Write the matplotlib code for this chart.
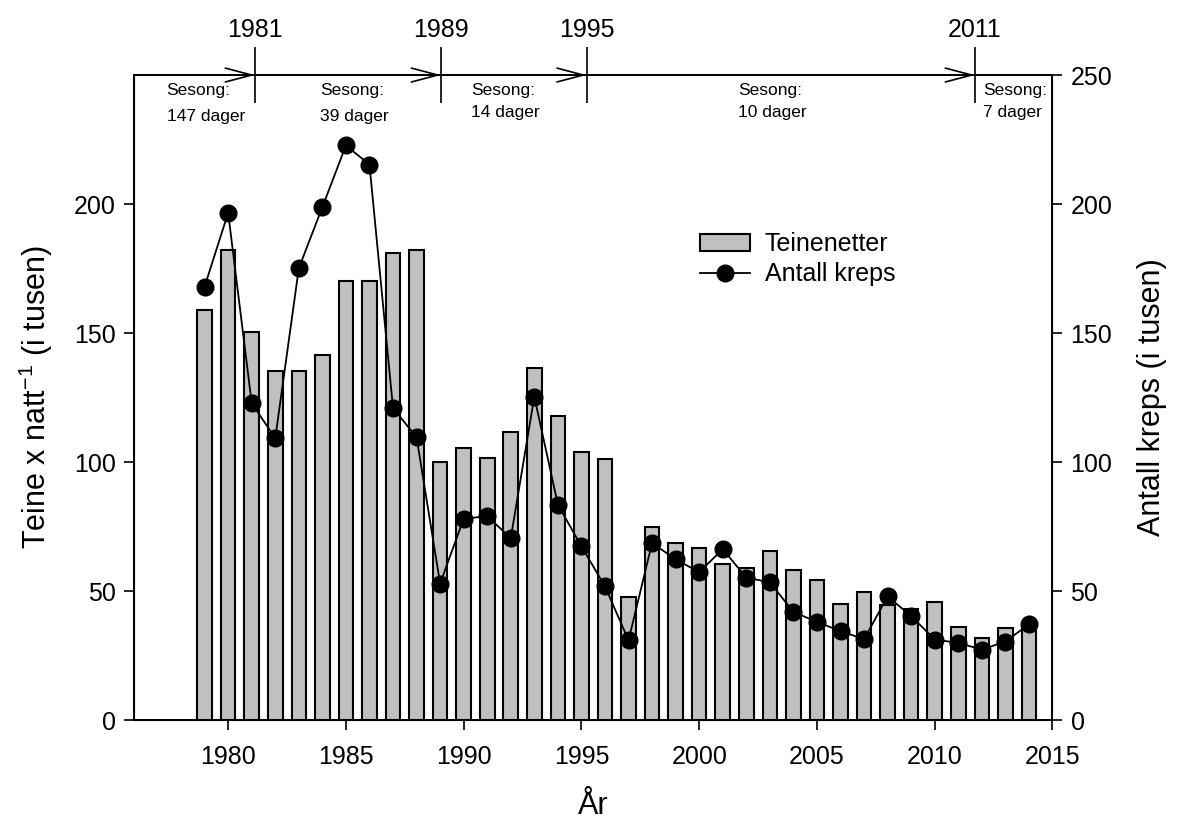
import matplotlib
matplotlib.use("Agg")
from matplotlib import pyplot as plt

plt.rcParams['font.family'] = ['Liberation Sans', 'DejaVu Sans']
plt.rcParams['mathtext.default'] = 'regular'

# data
years = list(range(1979, 2015))

# Teinenetter (left axis, thousands)
teinenetter = [159, 182, 150.5, 135.3, 135.1, 141.6, 170.3, 170.3, 180.9, 182.1,
               99.9, 105.6, 101.4, 111.5, 136.6, 117.7, 103.8, 101.1, 47.7, 74.8,
               68.7, 66.5, 60.6, 58.9, 65.7, 58.2, 54.4, 45.1, 49.5, 44.7,
               42.9, 45.7, 36.1, 31.7, 35.7, 36.5]

# Antall kreps (right axis, thousands)
kreps = [168, 196.6, 122.8, 109.2, 175.1, 198.8, 222.7, 215.3, 120.9, 109.6,
         52.9, 78.0, 79.0, 70.5, 125.3, 83.5, 67.3, 51.8, 30.9, 68.6,
         62.3, 57.3, 66.2, 55.2, 53.4, 41.9, 38.0, 34.5, 31.3, 47.9,
         40.3, 31.2, 29.9, 27.3, 30.4, 37.1]

# season periods on top axis
period_ticks = [1981.14, 1989.04, 1995.22, 2011.71]
period_labels = ['1981', '1989', '1995', '2011']
season_x = [1977.39, 1983.90, 1990.30, 2001.65, 2012.06]
season_days = ['147 dager', '39 dager', '14 dager', '10 dager', '7 dager']

fig = plt.figure(figsize=(11.77, 8.21), dpi=100)
ax = fig.add_axes([0.1138, 0.1230, 0.7804, 0.7856])

bars = ax.bar(years, teinenetter, width=0.62, color='#c0c0c0',
              edgecolor='black', linewidth=1.5, label='Teinenetter', zorder=2)

ax.set_xlim(1976, 2015)
ax.set_ylim(0, 250)
ax.set_xticks([1980, 1985, 1990, 1995, 2000, 2005, 2010, 2015])
ax.set_yticks([0, 50, 100, 150, 200])
ax.tick_params(axis='both', direction='out', length=7, width=1.2,
               labelsize=18, pad=6)
ax.tick_params(axis='x', pad=11)
for s in ax.spines.values():
    s.set_linewidth(1.3)

ax.set_xlabel('År', fontsize=22, labelpad=16)
ax.set_ylabel('Teine x natt$^{-1}$ (i tusen)', fontsize=22, labelpad=14)

# right axis
ax2 = ax.twinx()
line, = ax2.plot(years, kreps, color='black', linewidth=1.3, marker='o',
                 markersize=12, label='Antall kreps', zorder=3)
ax2.set_ylim(0, 250)
ax2.set_yticks([0, 50, 100, 150, 200, 250])
ax2.tick_params(axis='y', direction='out', length=7, width=1.2,
                labelsize=18, pad=6)
ax2.set_ylabel('Antall kreps (i tusen)', fontsize=22, labelpad=18)
for s in ax2.spines.values():
    s.set_linewidth(1.3)

# top axis with period markers
ax3 = ax.twiny()
ax3.set_xlim(ax.get_xlim())
ax3.set_xticks(period_ticks)
ax3.set_xticklabels(period_labels)
ax3.tick_params(axis='x', direction='inout', length=40, width=1.2,
                labelsize=18, pad=4)
ax3.spines['top'].set_linewidth(1.3)

for t in period_ticks:
    ax2.annotate('', xy=(t, 250), xytext=(t - 1.2, 250),
                 arrowprops=dict(arrowstyle='->, head_length=1.9, head_width=0.5',
                                 mutation_scale=10, color='black', lw=1.2,
                                 shrinkA=0, shrinkB=0),
                 annotation_clip=False)

for i, (sx, days) in enumerate(zip(season_x, season_days)):
    y2 = 233.8 if i < 2 else 235.3
    ax2.text(sx, 244.2, 'Sesong:', fontsize=12.5, ha='left', va='center')
    ax2.text(sx, y2, days, fontsize=12.5, ha='left', va='center')

ax2.legend([bars, line], ['Teinenetter', 'Antall kreps'], loc='upper left',
           bbox_to_anchor=(0.605, 0.772), frameon=False, fontsize=18,
           handlelength=2.0, handletextpad=0.6, labelspacing=0.25,
           borderaxespad=0)

fig.savefig('out.png', dpi=100)
